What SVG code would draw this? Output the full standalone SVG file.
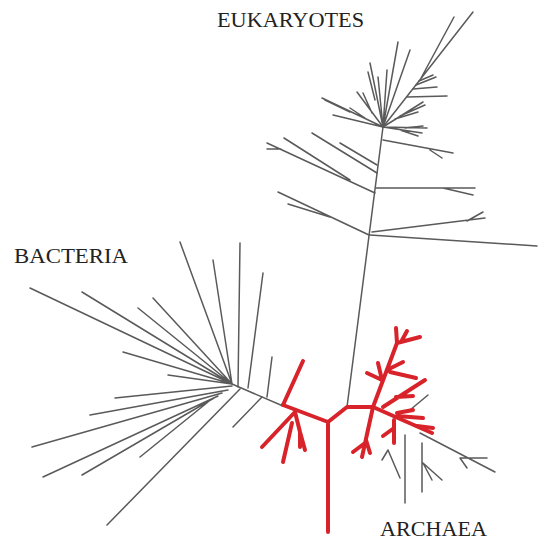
<svg xmlns="http://www.w3.org/2000/svg" width="539" height="542" viewBox="0 0 539 542">
<style>
.g{stroke:#5a5a5a;stroke-width:1.5;fill:none;stroke-linecap:round}
.r{stroke:#d8232a;stroke-width:4;fill:none;stroke-linecap:round;stroke-linejoin:round}
.t{font-family:"Liberation Serif","Times New Roman",serif;font-size:22px;fill:#222}
</style>
<rect width="539" height="542" fill="#fff"/>
<g id="eukaryotes" class="g">
<path d="M347,407 L383,127"/>
<path d="M370,235 L537,246"/>
<path d="M372,232 L485,218 M467,221 L483,212"/>
<path d="M376,188 L475,188 M443,188 L473,195"/>
<path d="M369,235 L278,192 M288,204 L330,217"/>
<path d="M375,193 L267,143 M267,149 L281,149 M284,138 L350,180"/>
<path d="M377,173 L312,133 M377,165 L340,143"/>
<path d="M383,140 L453,153 M430,150 L442,158"/>
<path d="M383,127 L473,12 M420,80 L454,17"/>
<path d="M407,97 L447,96 M413,89 L437,87 M416,85 L436,77 M419,81 L433,75"/>
<path d="M383,127 L398,42 M383,127 L410,50 M383,127 L387,70 M383,127 L378,77 M383,127 L370,63 M375,100 L368,72"/>
<path d="M383,127 L357,92 M372,113 L363,93 M383,127 L322,98 M350,112 L325,100 M383,127 L333,115 M365,118 L350,108"/>
<path d="M383,127 L423,102 M400,116 L425,105 M395,119 L418,112"/>
<path d="M383,127 L427,128 M405,128 L423,126 M383,127 L422,133 M400,130 L418,136"/>
</g>
<g id="bacteria" class="g">
<path d="M232,384 L283,406"/>
<path d="M232,384 L30,288 M232,384 L82,292 M232,384 L138,308 M232,384 L153,298 M232,384 L123,352 M232,384 L168,375 M232,384 L180,242 M232,384 L213,260"/>
<path d="M238,387 L240,243 M248,388 L263,273 M267,397 L272,357"/>
<path d="M232,386 L115,398 M228,390 L90,415 M222,393 L32,447 M218,396 L43,477 M214,398 L82,475 M208,402 L140,457 M240,389 L107,525 M262,397 L233,427"/>
</g>
<g id="archaea">
<g class="g">
<path d="M405,435 L405,503"/>
<path d="M420,433 L495,472 M460,458 L487,458 M460,458 L467,468"/>
<path d="M422,443 L422,492 M423,463 L442,480 M423,463 L432,480"/>
<path d="M388,450 L400,478 M388,450 L382,460"/>
<path d="M410,410 L428,395"/>
</g>
<g class="r">
<path d="M283,405 L328,422 L328,532 M328,422 L347,407 L373,407 L432,433"/>
<path d="M283,405 L303,361"/>
<path d="M295,412 L262,447 M292,423 L283,462 M295,412 L300,432 L305,450 M300,432 L300,447"/>
<path d="M373,407 L397,343 L396,328 M397,343 L420,337 M401,342 L407,331"/>
<path d="M387,370 L403,362 M390,372 L416,378 M382,380 L367,373 M382,380 L378,363"/>
<path d="M383,407 L425,380 M396,397 L413,396"/>
<path d="M397,416 L423,418 M397,413 L413,410 M417,426 L433,428"/>
<path d="M373,407 L362,457 M365,443 L353,452 M366,440 L370,453"/>
<path d="M394,420 L394,443 M394,428 L383,436"/>
</g>
</g>
<g id="labels" class="t">
<text x="217" y="27" textLength="147" lengthAdjust="spacingAndGlyphs">EUKARYOTES</text>
<text x="14" y="263" textLength="114" lengthAdjust="spacingAndGlyphs">BACTERIA</text>
<text x="380" y="536" textLength="107" lengthAdjust="spacingAndGlyphs">ARCHAEA</text>
</g>
</svg>
